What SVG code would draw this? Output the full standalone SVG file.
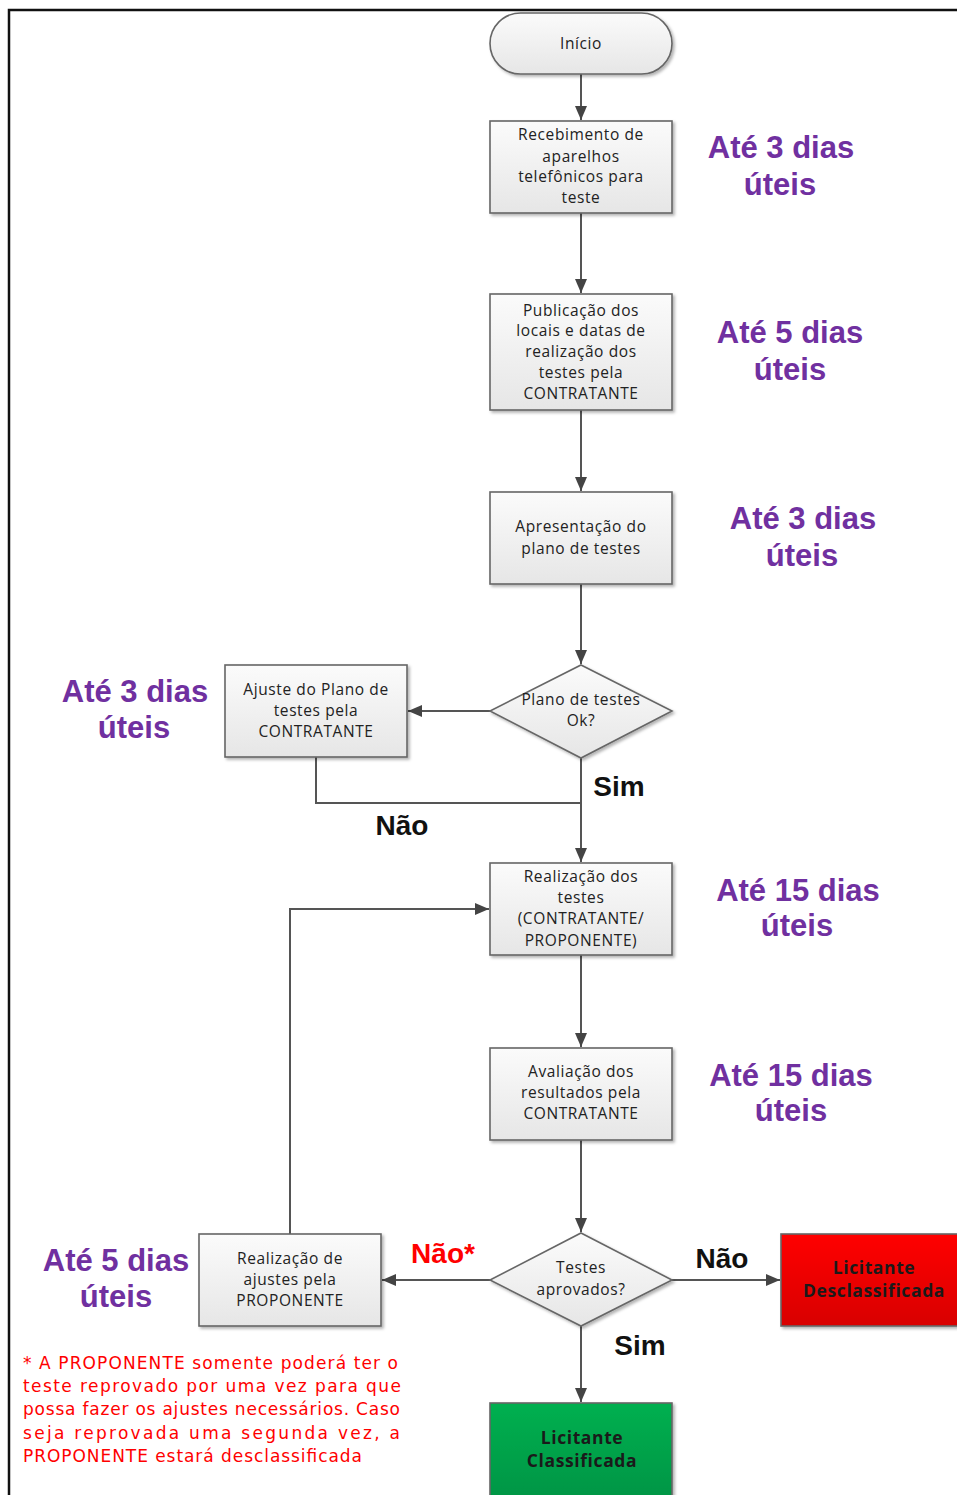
<svg xmlns="http://www.w3.org/2000/svg" width="957" height="1495" viewBox="0 0 957 1495">
<style>
.box{fill:url(#g);stroke:#666;stroke-width:1.6;filter:url(#sh)}
.t{font-family:"Open Sans","Liberation Sans",sans-serif;font-size:15.5px;fill:#222;text-anchor:middle;letter-spacing:0.6px}
.tb{font-family:"Open Sans","Liberation Sans",sans-serif;font-size:17.5px;font-weight:bold;fill:#1a1a1a;text-anchor:middle;letter-spacing:0.6px}
.p{font-family:"Liberation Sans",Arial,sans-serif;font-size:31px;font-weight:bold;fill:#7030A0;text-anchor:middle}
.l{font-family:"Liberation Sans",Arial,sans-serif;font-size:28px;font-weight:bold;fill:#111;text-anchor:middle}
.c{fill:none;stroke:#555;stroke-width:2}
.n{font-family:"DejaVu Sans","Open Sans",sans-serif;font-size:17px;fill:#ff0000}
</style>
<defs>
<linearGradient id="g" x1="0" y1="0" x2="0" y2="1"><stop offset="0" stop-color="#fbfbfb"/><stop offset="1" stop-color="#e6e6e6"/></linearGradient>
<linearGradient id="gr" x1="0" y1="0" x2="0" y2="1"><stop offset="0" stop-color="#ff0000"/><stop offset="1" stop-color="#d80000"/></linearGradient>
<linearGradient id="gg" x1="0" y1="0" x2="0" y2="1"><stop offset="0" stop-color="#00b050"/><stop offset="1" stop-color="#009444"/></linearGradient>
<filter id="sh" x="-10%" y="-10%" width="130%" height="130%"><feDropShadow dx="2" dy="2" stdDeviation="1.5" flood-color="#000" flood-opacity="0.3"/></filter>
<marker id="a" viewBox="0 0 14 12" refX="14" refY="6" markerWidth="14" markerHeight="12" markerUnits="userSpaceOnUse" orient="auto"><path d="M0,0 L14,6 L0,12 z" fill="#444"/></marker>
</defs>
<rect x="0" y="0" width="957" height="1495" fill="#fff"/>
<path d="M9,1495 L9,10 L957,10" fill="none" stroke="#111" stroke-width="2.5"/>

<g id="connectors">
<path class="c" d="M581,74 V120" marker-end="url(#a)"/>
<path class="c" d="M581,213 V293" marker-end="url(#a)"/>
<path class="c" d="M581,410 V491" marker-end="url(#a)"/>
<path class="c" d="M581,584 V664" marker-end="url(#a)"/>
<path class="c" d="M490,711 H408" marker-end="url(#a)"/>
<path class="c" d="M581,758 V862" marker-end="url(#a)"/>
<path class="c" d="M316,757 V803 H581"/>
<path class="c" d="M581,955 V1047" marker-end="url(#a)"/>
<path class="c" d="M581,1140 V1232" marker-end="url(#a)"/>
<path class="c" d="M490,1280 H382" marker-end="url(#a)"/>
<path class="c" d="M672,1280 H780" marker-end="url(#a)"/>
<path class="c" d="M581,1326 V1402" marker-end="url(#a)"/>
<path class="c" d="M290,1234 V909 H489" marker-end="url(#a)"/>
</g>

<g id="inicio">
<rect x="490" y="13" width="182" height="61" rx="30.5" ry="30.5" class="box"/>
<text class="t" x="581" y="49">Início</text>
</g>
<g id="recebimento">
<rect x="490" y="121" width="182" height="92" class="box"/>
<text class="t" x="581" y="140">Recebimento de</text>
<text class="t" x="581" y="162">aparelhos</text>
<text class="t" x="581" y="182">telefônicos para</text>
<text class="t" x="581" y="203">teste</text>
</g>
<g id="publicacao">
<rect x="490" y="294" width="182" height="116" class="box"/>
<text class="t" x="581" y="316">Publicação dos</text>
<text class="t" x="581" y="336">locais e datas de</text>
<text class="t" x="581" y="357">realização dos</text>
<text class="t" x="581" y="378">testes pela</text>
<text class="t" x="581" y="399">CONTRATANTE</text>
</g>
<g id="apresentacao">
<rect x="490" y="492" width="182" height="92" class="box"/>
<text class="t" x="581" y="532">Apresentação do</text>
<text class="t" x="581" y="554">plano de testes</text>
</g>
<g id="plano-ok">
<polygon points="581,665 672,711 581,758 490,711" class="box"/>
<text class="t" x="581" y="705">Plano de testes</text>
<text class="t" x="581" y="726">Ok?</text>
</g>
<g id="ajuste">
<rect x="225" y="665" width="182" height="92" class="box"/>
<text class="t" x="316" y="695">Ajuste do Plano de</text>
<text class="t" x="316" y="716">testes pela</text>
<text class="t" x="316" y="737">CONTRATANTE</text>
</g>
<g id="realizacao">
<rect x="490" y="863" width="182" height="92" class="box"/>
<text class="t" x="581" y="882">Realização dos</text>
<text class="t" x="581" y="903">testes</text>
<text class="t" x="581" y="924">(CONTRATANTE/</text>
<text class="t" x="581" y="946">PROPONENTE)</text>
</g>
<g id="avaliacao">
<rect x="490" y="1048" width="182" height="92" class="box"/>
<text class="t" x="581" y="1077">Avaliação dos</text>
<text class="t" x="581" y="1098">resultados pela</text>
<text class="t" x="581" y="1119">CONTRATANTE</text>
</g>
<g id="aprovados">
<polygon points="581,1233 672,1280 581,1326 490,1280" class="box"/>
<text class="t" x="581" y="1273">Testes</text>
<text class="t" x="581" y="1295">aprovados?</text>
</g>
<g id="ajustes-proponente">
<rect x="199" y="1234" width="182" height="92" class="box"/>
<text class="t" x="290" y="1264">Realização de</text>
<text class="t" x="290" y="1285">ajustes pela</text>
<text class="t" x="290" y="1306">PROPONENTE</text>
</g>
<g id="desclassificada">
<rect x="781" y="1234" width="190" height="92" fill="url(#gr)" stroke="#666" stroke-width="1.6" filter="url(#sh)"/>
<text class="tb" x="874" y="1274">Licitante</text>
<text class="tb" x="874" y="1297">Desclassificada</text>
</g>
<g id="classificada">
<rect x="490" y="1403" width="182" height="100" fill="url(#gg)" stroke="#666" stroke-width="1.6" filter="url(#sh)"/>
<text class="tb" x="582" y="1444">Licitante</text>
<text class="tb" x="582" y="1467">Classificada</text>
</g>

<g id="labels">
<text class="l" x="619" y="796">Sim</text>
<text class="l" x="402" y="835">Não</text>
<text class="l" x="443" y="1263" style="fill:#ff0000">Não*</text>
<text class="l" x="722" y="1268">Não</text>
<text class="l" x="640" y="1355">Sim</text>
</g>

<g id="prazos">
<text class="p" x="781" y="158">Até 3 dias</text>
<text class="p" x="780" y="195">úteis</text>
<text class="p" x="790" y="343">Até 5 dias</text>
<text class="p" x="790" y="380">úteis</text>
<text class="p" x="803" y="529">Até 3 dias</text>
<text class="p" x="802" y="566">úteis</text>
<text class="p" x="135" y="702">Até 3 dias</text>
<text class="p" x="134" y="738">úteis</text>
<text class="p" x="798" y="901">Até 15 dias</text>
<text class="p" x="797" y="936">úteis</text>
<text class="p" x="791" y="1086">Até 15 dias</text>
<text class="p" x="791" y="1121">úteis</text>
<text class="p" x="116" y="1271">Até 5 dias</text>
<text class="p" x="116" y="1307">úteis</text>
</g>

<g id="nota">
<text class="n" x="23" y="1369" textLength="375" lengthAdjust="spacing">* A PROPONENTE somente poderá ter o</text>
<text class="n" x="23" y="1392" textLength="378" lengthAdjust="spacing">teste reprovado por uma vez para que</text>
<text class="n" x="23" y="1415" textLength="377" lengthAdjust="spacing">possa fazer os ajustes necessários. Caso</text>
<text class="n" x="23" y="1439" textLength="377" lengthAdjust="spacing">seja reprovada uma segunda vez, a</text>
<text class="n" x="23" y="1462" textLength="339" lengthAdjust="spacing">PROPONENTE estará desclassificada</text>
</g>
</svg>
